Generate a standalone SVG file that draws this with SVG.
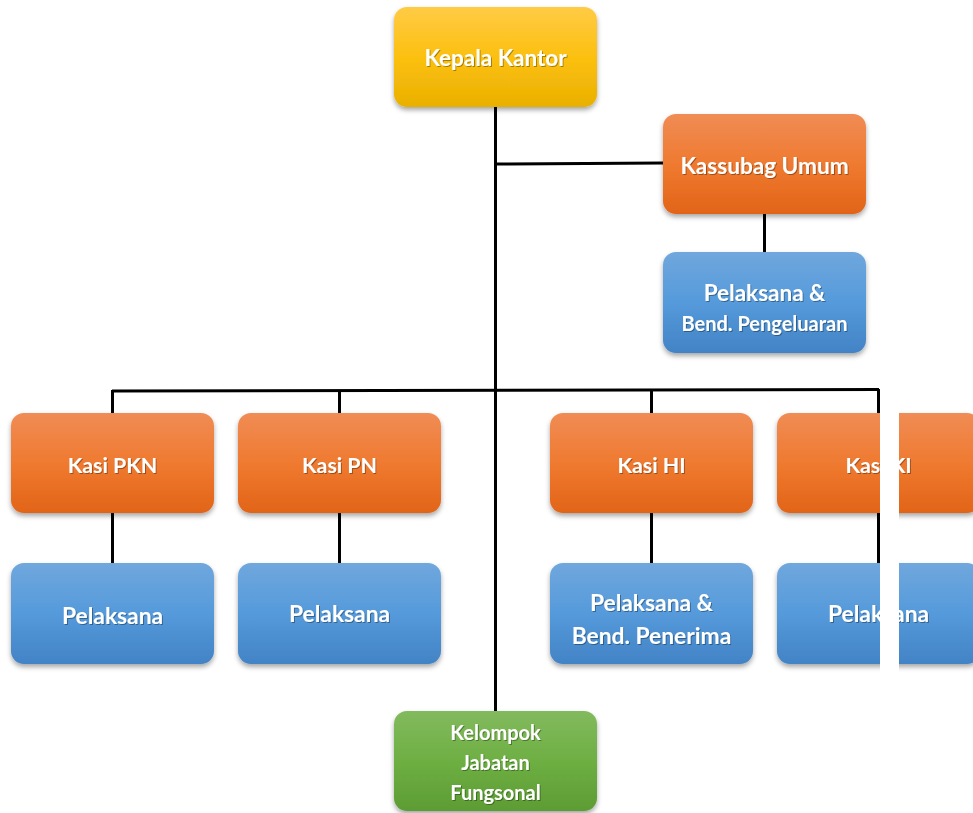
<svg xmlns="http://www.w3.org/2000/svg" width="973" height="813" viewBox="0 0 973 813">
<defs>
<linearGradient id="gY" x1="0" y1="0" x2="0" y2="1"><stop offset="0" stop-color="#FFCB45"/><stop offset="0.5" stop-color="#FCC010"/><stop offset="1" stop-color="#E9B000"/></linearGradient>
<linearGradient id="gO" x1="0" y1="0" x2="0" y2="1"><stop offset="0" stop-color="#F08C55"/><stop offset="0.5" stop-color="#EF7A30"/><stop offset="1" stop-color="#E26418"/></linearGradient>
<linearGradient id="gB" x1="0" y1="0" x2="0" y2="1"><stop offset="0" stop-color="#70A7DD"/><stop offset="0.5" stop-color="#559ADB"/><stop offset="1" stop-color="#4283C6"/></linearGradient>
<linearGradient id="gG" x1="0" y1="0" x2="0" y2="1"><stop offset="0" stop-color="#82BA5E"/><stop offset="0.5" stop-color="#6EAF43"/><stop offset="1" stop-color="#5C9C33"/></linearGradient>
<filter id="sh" x="-10%" y="-10%" width="120%" height="130%"><feDropShadow dx="0" dy="3" stdDeviation="2.5" flood-color="#000" flood-opacity="0.35"/></filter>
<filter id="ts" x="-5%" y="-20%" width="110%" height="140%"><feDropShadow dx="1" dy="1" stdDeviation="0.6" flood-color="#000" flood-opacity="0.35"/></filter>
</defs>
<style>
.box{filter:url(#sh);}
.t{font-family:Lato,"Open Sans","Liberation Sans",sans-serif;font-weight:bold;fill:#fff;text-anchor:middle;filter:url(#ts);}
.ln{stroke:#000;stroke-width:3;fill:none;}
</style>
<g id="connectors">
<line class="ln" x1="495.5" y1="107" x2="495.5" y2="711"/>
<line class="ln" x1="495.5" y1="164" x2="663" y2="163"/>
<line class="ln" x1="764.5" y1="214" x2="764.5" y2="252"/>
<line class="ln" x1="112" y1="391" x2="879" y2="389.5"/>
<line class="ln" x1="112.5" y1="390" x2="112.5" y2="413"/>
<line class="ln" x1="339.5" y1="390" x2="339.5" y2="413"/>
<line class="ln" x1="651.5" y1="390" x2="651.5" y2="413"/>
<line class="ln" x1="878.5" y1="389" x2="878.5" y2="413"/>
<line class="ln" x1="112.5" y1="513" x2="112.5" y2="563"/>
<line class="ln" x1="339.5" y1="513" x2="339.5" y2="563"/>
<line class="ln" x1="651.5" y1="513" x2="651.5" y2="563"/>
<line class="ln" x1="878.5" y1="513" x2="878.5" y2="563"/>
</g>
<g id="kepala"><rect class="box" x="394" y="7" width="203" height="100" rx="13" fill="url(#gY)"/><text class="t" x="495.5" y="66" font-size="22.5">Kepala Kantor</text></g>
<g id="kassubag"><rect class="box" x="663" y="114" width="203" height="100" rx="13" fill="url(#gO)"/><text class="t" x="764.5" y="174" font-size="22.6">Kassubag Umum</text></g>
<g id="pel-bend-peng"><rect class="box" x="663" y="252" width="203" height="101" rx="13" fill="url(#gB)"/><text class="t" x="764.5" y="301" font-size="22.5">Pelaksana &amp;</text><text class="t" x="764.5" y="331" font-size="20">Bend. Pengeluaran</text></g>
<g id="kasi-pkn"><rect class="box" x="11" y="413" width="203" height="100" rx="13" fill="url(#gO)"/><text class="t" x="112.5" y="473" font-size="21.3">Kasi PKN</text></g>
<g id="kasi-pn"><rect class="box" x="238" y="413" width="203" height="100" rx="13" fill="url(#gO)"/><text class="t" x="339.5" y="473" font-size="21.3">Kasi PN</text></g>
<g id="kasi-hi"><rect class="box" x="550" y="413" width="203" height="100" rx="13" fill="url(#gO)"/><text class="t" x="651.5" y="473" font-size="21.3">Kasi HI</text></g>
<g id="kasi-ki"><rect class="box" x="777" y="413" width="203" height="100" rx="13" fill="url(#gO)"/><text class="t" x="878.5" y="473" font-size="21.3">Kasi KI</text></g>
<g id="pel-pkn"><rect class="box" x="11" y="563" width="203" height="101" rx="13" fill="url(#gB)"/><text class="t" x="112.5" y="624" font-size="22.8">Pelaksana</text></g>
<g id="pel-pn"><rect class="box" x="238" y="563" width="203" height="101" rx="13" fill="url(#gB)"/><text class="t" x="339.5" y="622" font-size="22.8">Pelaksana</text></g>
<g id="pel-hi"><rect class="box" x="550" y="563" width="203" height="101" rx="13" fill="url(#gB)"/><text class="t" x="651.5" y="611" font-size="22.8">Pelaksana &amp;</text><text class="t" x="651.5" y="644" font-size="22.8">Bend. Penerima</text></g>
<g id="pel-ki"><rect class="box" x="777" y="563" width="203" height="101" rx="13" fill="url(#gB)"/><text class="t" x="878.5" y="622" font-size="22.8">Pelaksana</text></g>
<g id="kelompok"><rect class="box" x="394" y="711" width="203" height="100" rx="13" fill="url(#gG)"/><text class="t" x="495.5" y="740" font-size="20">Kelompok</text><text class="t" x="495.5" y="770" font-size="20">Jabatan</text><text class="t" x="495.5" y="800" font-size="20">Fungsonal</text></g>
<rect x="880" y="380" width="19" height="293" fill="#fff"/>
<line class="ln" x1="878.5" y1="389" x2="878.5" y2="413"/>
<line class="ln" x1="878.5" y1="513" x2="878.5" y2="563"/>
</svg>
